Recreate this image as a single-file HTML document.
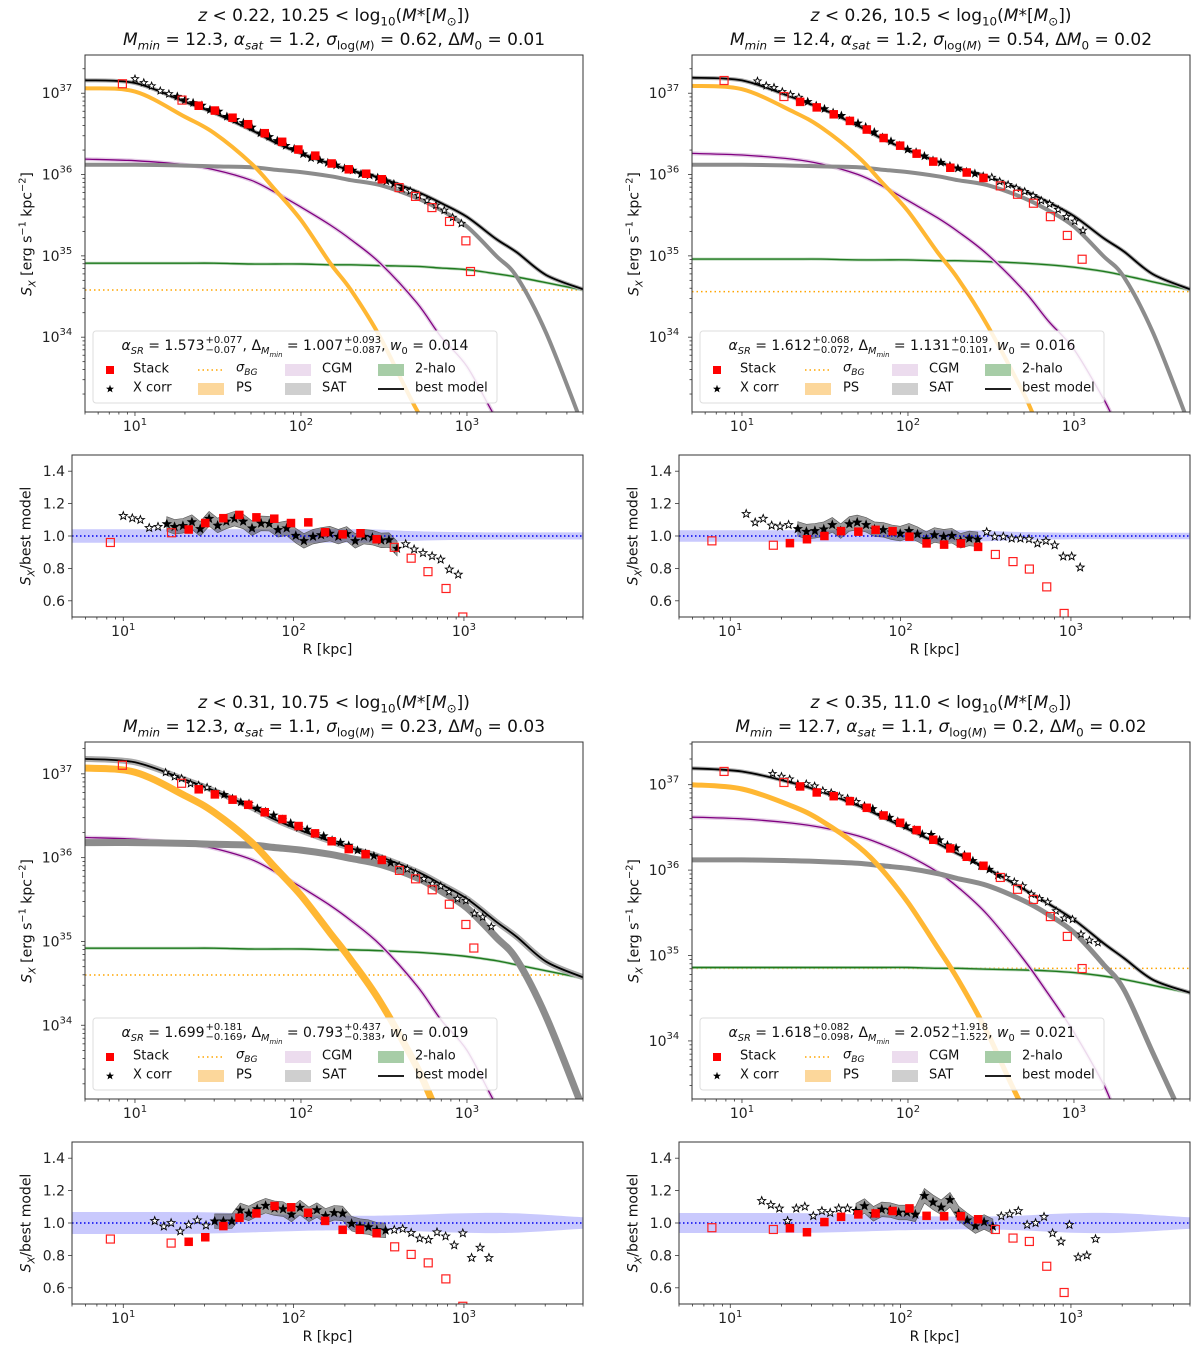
<!DOCTYPE html>
<html><head><meta charset="utf-8">
<style>
html,body{margin:0;padding:0;background:#fff;width:1200px;height:1355px;overflow:hidden;}
#wrap{position:relative;width:1200px;height:1355px;overflow:hidden;font-family:"DejaVu Sans","Liberation Sans",sans-serif;color:#111;}
svg{position:absolute;left:0;top:0;font-family:"DejaVu Sans","Liberation Sans",sans-serif;}
.ov{position:absolute;white-space:nowrap;line-height:1.15;}
.title{font-size:17px;transform:translate(-50%,-50%);}
.ylab{font-size:14px;transform:translate(-50%,-50%) rotate(-90deg);}
.xlab{font-size:14px;transform:translateX(-50%);}
.leg1{font-size:14px;transform:translate(-50%,-50%);}
.legt{font-size:13px;transform:translate(0,-50%);}
.ss{display:inline-block;vertical-align:middle;font-size:10px;line-height:10px;text-align:left;margin-left:1px;}
sub,sup{font-size:70%;}
i{font-style:italic;}
</style></head>
<body><div id="wrap">
<svg id="svg" width="1200" height="1355" xmlns="http://www.w3.org/2000/svg"></svg>
</div>
<script>
// ---- model grid and component arrays (log10 S_X) ----
const gridR=[5,10,20,30,50,70,100,150,200,300,500,700,1000,1500,2000,3000,5000];
const ps1=[37.06,37.02,36.71,36.51,36.14,35.81,35.44,34.91,34.58,34.0,33.1,32.4,31.6,30.3,29.2,27.5,25];
const cgm1=[36.19,36.17,36.12,36.06,35.93,35.78,35.6,35.38,35.2,34.91,34.42,34.0,33.64,33.0,32.4,31.5,30];
const sat1=[36.12,36.12,36.11,36.10,36.09,36.06,36.03,35.98,35.93,35.87,35.71,35.56,35.36,35.0,34.74,34.05,32.9];
const halo1=[34.91,34.91,34.91,34.91,34.90,34.90,34.90,34.89,34.89,34.88,34.87,34.85,34.83,34.78,34.74,34.67,34.58];
const ps2=[37.09,37.05,36.78,36.58,36.22,35.9,35.55,35.05,34.72,34.15,33.3,32.6,31.8,30.6,29.5,27.8,25.5];
const cgm2=[36.26,36.24,36.19,36.13,36.0,35.86,35.68,35.47,35.3,35.02,34.57,34.2,33.85,33.25,32.8,31.9,30.5];
const sat2=[36.12,36.12,36.11,36.10,36.09,36.06,36.03,35.98,35.93,35.87,35.71,35.56,35.36,35.0,34.74,34.05,32.9];
const halo2=[34.96,34.96,34.96,34.96,34.95,34.95,34.95,34.94,34.94,34.93,34.91,34.89,34.86,34.81,34.76,34.68,34.58];
const ps3=[37.07,37.02,36.74,36.54,36.19,35.88,35.55,35.1,34.78,34.28,33.5,32.9,32.2,31.0,30.0,28.3,26];
const cgm3=[36.24,36.22,36.17,36.11,35.98,35.83,35.65,35.43,35.25,34.96,34.47,34.06,33.7,33.05,32.5,31.6,30];
const sat3=[36.18,36.18,36.17,36.16,36.15,36.12,36.09,36.04,35.99,35.92,35.76,35.6,35.4,35.05,34.78,34.1,33.0];
const halo3=[34.92,34.92,34.92,34.92,34.91,34.91,34.91,34.9,34.9,34.89,34.87,34.85,34.82,34.77,34.72,34.65,34.56];
const ps4=[37.0,36.95,36.75,36.58,36.28,36.0,35.62,35.1,34.72,34.1,33.2,32.5,31.7,30.5,29.4,27.7,25.3];
const cgm4=[36.62,36.6,36.55,36.5,36.4,36.3,36.17,35.98,35.8,35.48,34.95,34.55,34.1,33.5,33.0,32.1,30.7];
const sat4=[36.12,36.12,36.11,36.1,36.08,36.05,36.02,35.96,35.9,35.82,35.64,35.48,35.27,34.9,34.6,33.85,32.6];
const halo4=[34.86,34.86,34.86,34.86,34.86,34.86,34.86,34.85,34.85,34.84,34.83,34.82,34.8,34.76,34.72,34.65,34.56];
const bgLevels=[34.58,34.56,34.6,34.85];
// ---- blue uncertainty band half-widths (ratio) ----
const bandR=[5,10,30,100,200,300,500,1000,2000,5000];
const bandW1=[0.042,0.042,0.042,0.042,0.042,0.04,0.03,0.024,0.022,0.022];
const bandW2=[0.035,0.035,0.035,0.035,0.035,0.033,0.025,0.02,0.02,0.02];
const bandW3=[0.068,0.068,0.066,0.05,0.045,0.045,0.05,0.06,0.06,0.035];
const bandW4=[0.062,0.062,0.06,0.045,0.04,0.04,0.045,0.06,0.06,0.035];
// ---- Stack data (R kpc, ratio to best model, open flag) ----
const stackR1=[8.4,19.2,24.2,30.3,38.7,48,60.5,77,96.5,122,153,194,247,307,390,490,615,785,985,1050];
const stackV1=[0.96,1.02,1.04,1.08,1.11,1.13,1.115,1.107,1.08,1.084,1.023,1.01,1.017,0.98,0.93,0.863,0.78,0.676,0.50,0.23];
const stackO1=[1,1,0,0,0,0,0,0,0,0,0,0,0,0,1,1,1,1,1,1];
const stackR2=[7.8,17.9,22.4,28.2,35.7,44.7,56.5,71.3,89.7,112.7,142,180,226,285,360,457,570,721,912,1120];
const stackV2=[0.97,0.943,0.956,0.98,1.0,1.03,1.027,1.038,1.03,0.996,0.954,0.947,0.954,0.933,0.886,0.842,0.796,0.686,0.522,0.35];
const stackO2=[1,1,0,0,0,0,0,0,0,0,0,0,0,0,1,1,1,1,1,1];
const stackR3=[8.4,19.1,24.2,30.3,38.7,48.1,60.5,77.3,96.7,121.5,153,194,245,307,392,490,617,783,985,1100];
const stackV3=[0.901,0.876,0.884,0.912,0.981,1.032,1.059,1.105,1.097,1.063,1.013,0.958,0.958,0.937,0.853,0.806,0.754,0.655,0.486,0.3];
const stackO3=[1,1,0,0,0,0,0,0,0,0,0,0,0,0,1,1,1,1,1,1];
const stackR4=[7.8,17.9,22.4,28.2,35.7,44.7,56.5,71.3,89.7,112.7,142,180,226,285,360,457,570,721,912,1120];
const stackV4=[0.971,0.96,0.968,0.943,1.006,1.038,1.053,1.059,1.074,1.09,1.044,1.042,1.042,1.023,0.96,0.907,0.886,0.733,0.571,0.32];
const stackO4=[1,1,0,0,0,0,0,0,0,0,0,0,0,0,1,1,1,1,1,1];
// ---- X corr data ----
const starR1=[10,11.3,12.6,14.2,16,18,20,22.4,25.3,28.3,31.9,35.8,40.3,45,50.6,57,64.4,72,81,91,103,115,130,145,163,183,205,230,259,290,327,363,405,455,510,575,650,730,820,925];
const starV1=[1.124,1.11,1.10,1.05,1.057,1.074,1.057,1.063,1.086,1.044,1.107,1.065,1.09,1.107,1.09,1.048,1.078,1.076,1.038,1.048,1.002,0.97,0.996,1.006,1.015,0.996,1.013,0.97,0.996,0.99,0.973,0.975,0.922,0.95,0.918,0.895,0.876,0.855,0.794,0.762];
const starO1=[1,1,1,1,1,0,0,0,0,0,0,0,0,0,0,0,0,0,0,0,0,0,0,0,0,0,0,0,0,0,0,0,0,1,1,1,1,1,1,1];
const starR2=[12.4,14,15.6,17.5,19.6,22,24.9,28,31.4,35.4,39.7,44.5,50,55.6,62.7,70.3,79,88.8,99.5,112,125.6,141.5,158,179,200,225,253,284,320,357,401,449,505,567,636,713,803,901,1010,1133];
const starV2=[1.137,1.084,1.107,1.065,1.059,1.069,1.044,1.027,1.032,1.042,1.069,1.03,1.074,1.084,1.069,1.042,1.038,1.023,1.015,1.032,1.011,0.981,1.006,0.996,1.002,0.97,0.985,0.979,1.025,0.996,0.996,0.985,0.985,0.981,0.954,0.97,0.943,0.874,0.874,0.806];
const starO2=[1,1,1,1,1,1,0,0,0,0,0,0,0,0,0,0,0,0,0,0,0,0,0,0,0,0,0,0,1,1,1,1,1,1,1,1,1,1,1,1];
const starR3=[15.3,17.3,19.1,21.6,24.2,27.2,30.6,34.4,38.7,43.4,48.6,54.6,61.1,68.5,77.3,86.7,97.2,109,123,137,154,173,194,219,245,275,308,347,390,437,490,550,619,695,780,877,985,1109,1244,1402];
const starV3=[1.013,0.979,1.0,0.949,0.989,1.017,0.985,1.011,1.011,1.011,1.078,1.059,1.086,1.107,1.091,1.086,1.053,1.095,1.053,1.08,1.044,1.063,1.059,0.996,0.981,0.975,0.958,0.954,0.958,0.964,0.939,0.905,0.897,0.943,0.918,0.863,0.937,0.785,0.848,0.785];
const starO3=[1,1,1,1,1,1,1,0,0,0,0,0,0,0,0,0,0,0,0,0,0,0,0,0,0,0,0,0,1,1,1,1,1,1,1,1,1,1,1,1];
const starR4=[15.3,17.3,19.4,21.7,24.4,27.4,30.7,34.5,38.6,43.3,48.8,54.7,61.4,69.2,77.5,86.9,97.5,109,122,138,155,173,195,219,246,275,309,348,390,437,491,553,620,695,780,874,980,1103,1239,1394];
const starV4=[1.137,1.112,1.09,1.013,1.09,1.101,1.044,1.074,1.063,1.09,1.09,1.076,1.105,1.057,1.084,1.08,1.065,1.065,1.053,1.168,1.128,1.097,1.143,1.059,1.017,0.981,1.006,0.979,1.042,1.055,1.074,0.989,1.0,1.038,0.937,0.886,0.989,0.789,0.8,0.901];
const starO4=[1,1,1,1,1,1,1,1,1,1,1,0,0,0,0,0,0,0,0,0,0,0,0,0,0,0,0,0,1,1,1,1,1,1,1,1,1,1,1,1];
// ---- text ----
const titles1=['<i>z</i> &lt; 0.22, 10.25 &lt; log<sub>10</sub>(<i>M</i>*[<i>M</i><sub>&#x2299;</sub>])','<i>z</i> &lt; 0.26, 10.5 &lt; log<sub>10</sub>(<i>M</i>*[<i>M</i><sub>&#x2299;</sub>])','<i>z</i> &lt; 0.31, 10.75 &lt; log<sub>10</sub>(<i>M</i>*[<i>M</i><sub>&#x2299;</sub>])','<i>z</i> &lt; 0.35, 11.0 &lt; log<sub>10</sub>(<i>M</i>*[<i>M</i><sub>&#x2299;</sub>])'];
const titles2=[['12.3','1.2','0.62','0.01'],['12.4','1.2','0.54','0.02'],['12.3','1.1','0.23','0.03'],['12.7','1.1','0.2','0.02']];
const legVals=[['1.573','+0.077','&minus;0.07','1.007','+0.093','&minus;0.087','0.014'],['1.612','+0.068','&minus;0.072','1.131','+0.109','&minus;0.101','0.016'],['1.699','+0.181','&minus;0.169','0.793','+0.437','&minus;0.383','0.019'],['1.618','+0.082','&minus;0.098','2.052','+1.918','&minus;1.522','0.021']];

const panels=[
 {dx:0,dy:0,yMin:33.08,yMax:37.47,ps:ps1,cgm:cgm1,sat:sat1,halo:halo1,bg:bgLevels[0],sR:stackR1,sV:stackV1,sO:stackO1,xR:starR1,xV:starV1,xO:starO1,bw:bandW1,psw:4},
 {dx:607,dy:0,yMin:33.08,yMax:37.47,ps:ps2,cgm:cgm2,sat:sat2,halo:halo2,bg:bgLevels[1],sR:stackR2,sV:stackV2,sO:stackO2,xR:starR2,xV:starV2,xO:starO2,bw:bandW2,psw:4},
 {dx:0,dy:687,yMin:33.12,yMax:37.38,ps:ps3,cgm:cgm3,sat:sat3,halo:halo3,bg:bgLevels[2],sR:stackR3,sV:stackV3,sO:stackO3,xR:starR3,xV:starV3,xO:starO3,bw:bandW3,psw:7},
 {dx:607,dy:687,yMin:33.32,yMax:37.5,ps:ps4,cgm:cgm4,sat:sat4,halo:halo4,bg:bgLevels[3],sR:stackR4,sV:stackV4,sO:stackO4,xR:starR4,xV:starV4,xO:starO4,bw:bandW4,psw:5}
];

const NS='http://www.w3.org/2000/svg';
const svg=document.getElementById('svg');
const wrap=document.getElementById('wrap');
function el(tag,attrs,parent){const e=document.createElementNS(NS,tag);for(const k in attrs)e.setAttribute(k,attrs[k]);(parent||svg).appendChild(e);return e;}
function ov(cls,x,y,html,name){const d=document.createElement('div');d.className='ov '+cls;d.style.left=x+'px';d.style.top=y+'px';d.innerHTML=html;


wrap.appendChild(d);return d;}
function lerpArr(xs,ys,x){
 const lx=Math.log10(x);
 if(x<=xs[0])return ys[0]; if(x>=xs[xs.length-1])return ys[ys.length-1];
 for(let i=0;i<xs.length-1;i++){if(x<=xs[i+1]){const a=Math.log10(xs[i]),b=Math.log10(xs[i+1]);const t=(lx-a)/(b-a);return ys[i]+(ys[i+1]-ys[i])*t;}}
}
function catmull(pts){let d='M'+pts[0][0].toFixed(1)+','+pts[0][1].toFixed(1);
 for(let i=0;i<pts.length-1;i++){const p0=pts[Math.max(0,i-1)],p1=pts[i],p2=pts[i+1],p3=pts[Math.min(pts.length-1,i+2)];
 const c1=[p1[0]+(p2[0]-p0[0])/6,p1[1]+(p2[1]-p0[1])/6],c2=[p2[0]-(p3[0]-p1[0])/6,p2[1]-(p3[1]-p1[1])/6];
 d+=' C'+c1[0].toFixed(1)+','+c1[1].toFixed(1)+' '+c2[0].toFixed(1)+','+c2[1].toFixed(1)+' '+p2[0].toFixed(1)+','+p2[1].toFixed(1);}
 return d;}
function starPath(cx,cy,r){let d='';for(let k=0;k<10;k++){const rr=k%2?r*0.42:r;const a=-Math.PI/2+k*Math.PI/5;d+=(k?'L':'M')+(cx+rr*Math.cos(a)).toFixed(1)+','+(cy+rr*Math.sin(a)).toFixed(1);}return d+'Z';}
const LX0=Math.log10(5),LX1=Math.log10(5)+3.0;

panels.forEach((p,pi)=>{
 const mx0=85+p.dx,mx1=583+p.dx,my0=55+p.dy,my1=412+p.dy;
 const rx0=72+p.dx,rx1=583+p.dx,ry0=455+p.dy,ry1=617+p.dy;
 const X=r=>mx0+(Math.log10(r)-LX0)/(LX1-LX0)*(mx1-mx0);
 const Y=l=>my1-(l-p.yMin)/(p.yMax-p.yMin)*(my1-my0);
 const RX=r=>rx0+(Math.log10(r)-LX0)/(LX1-LX0)*(rx1-rx0);
 const RY=v=>ry1-(v-0.5)/(1.0)*(ry1-ry0);
 const best=gridR.map((r,i)=>Math.log10(Math.pow(10,p.ps[i]-34)+Math.pow(10,p.cgm[i]-34)+Math.pow(10,p.sat[i]-34)+Math.pow(10,p.halo[i]-34))+34);
 const bestAt=r=>lerpArr(gridR,best,r);

 const g=el('g',{});
 
 
 const defs=el('defs',{},g);
 const cm=el('clipPath',{id:'cm'+pi},defs);el('rect',{x:mx0,y:my0,width:mx1-mx0,height:my1-my0},cm);
 const cr=el('clipPath',{id:'cr'+pi},defs);el('rect',{x:rx0,y:ry0,width:rx1-rx0,height:ry1-ry0},cr);

 const gm=el('g',{'clip-path':'url(#cm'+pi+')'},g);
 
 
 const floorV=p.yMin-0.4;
 const curve=(arr)=>catmull(gridR.map((r,i)=>[X(r),Y(Math.max(arr[i],floorV))]));
 let e;
 e=el('line',{x1:mx0,x2:mx1,y1:Y(p.bg),y2:Y(p.bg),stroke:'#ffa500','stroke-width':1.5,'stroke-dasharray':'1.5,3'},gm);
 
 
 e=el('path',{d:curve(p.halo),fill:'none',stroke:'#9fc79f','stroke-width':3,opacity:0.7},gm);
 
 
 e=el('path',{d:curve(p.halo),fill:'none',stroke:'#1f7a1f','stroke-width':1.4},gm);
 
 
 e=el('path',{d:curve(p.cgm),fill:'none',stroke:'#e4cce6','stroke-width':4},gm);
 
 
 e=el('path',{d:curve(p.cgm),fill:'none',stroke:'#800080','stroke-width':1.3},gm);
 
 
 e=el('path',{d:curve(p.sat),fill:'none',stroke:'#8c8c8c','stroke-width':p.psw},gm);
 
 
 e=el('path',{d:curve(p.ps),fill:'none',stroke:'#ffb733','stroke-width':p.psw},gm);
 
 
 e=el('path',{d:curve(best),fill:'none',stroke:'#aaa','stroke-width':pi==2?6:4},gm);
 
 
 e=el('path',{d:curve(best),fill:'none',stroke:'#000','stroke-width':1.8},gm);
 
 
 p.xR.forEach((r,i)=>{const s=el('path',{d:starPath(X(r),Y(bestAt(r)+Math.log10(p.xV[i])),3.8),fill:p.xO[i]?'#fff':'#000',stroke:'#000','stroke-width':0.9},gm);
  
  });
 p.sR.forEach((r,i)=>{const cx=X(r),cy=Y(bestAt(r)+Math.log10(p.sV[i]));const o=p.sO[i];
  const s=el('rect',{x:cx-4,y:cy-4,width:8,height:8,fill:o?'none':'#ff0000',stroke:o?'#ff2020':'#ff0000','stroke-width':o?1.2:0.5},gm);
  
  });
 e=el('rect',{x:mx0,y:my0,width:mx1-mx0,height:my1-my0,fill:'none',stroke:'#333','stroke-width':1},g);
 
 
 [[X,my1],[RX,ry1]].forEach(([fx,yb])=>{
  for(let dec=0;dec<=3;dec++)for(let m=1;m<10;m++){const v=m*Math.pow(10,dec);if(v<5||v>5000)continue;
   const x=fx(v);el('line',{x1:x,x2:x,y1:yb,y2:yb+(m==1?4:2.5),stroke:'#333','stroke-width':0.8},g);
   if(m==1&&dec>=1){const t=el('text',{x:x,y:yb+19,'font-size':14,'text-anchor':'middle',fill:'#222'},g);
    
    
    t.innerHTML='10<tspan dy="-6" font-size="10">'+dec+'</tspan>';}}
 });
 for(let d=33;d<=37;d++)for(let m=1;m<10;m++){const l=d+Math.log10(m);if(l<p.yMin||l>p.yMax)continue;const y=Y(l);
  el('line',{x1:mx0,x2:mx0-(m==1?4:2.5),y1:y,y2:y,stroke:'#333','stroke-width':0.8},g);
  if(m==1){const t=el('text',{x:mx0-28,y:y+5,'font-size':14,'text-anchor':'middle',fill:'#222'},g);
   
   
   t.innerHTML='10<tspan dy="-7" font-size="10">'+d+'</tspan>';}}

 const lx=p.dx,ly=p.dy;
 e=el('rect',{x:93+lx,y:331+ly,width:404,height:72,rx:3,fill:'#fff','fill-opacity':0.85,stroke:'#ddd'},g);
 
 
 const r1=370+ly,r2=389+ly;
 el('rect',{x:106+lx,y:r1-4,width:8,height:8,fill:'#f00'},g);
 el('path',{d:starPath(110+lx,r2,4.2),fill:'#000'},g);
 el('line',{x1:198+lx,x2:223+lx,y1:r1,y2:r1,stroke:'#ffa500','stroke-width':1.5,'stroke-dasharray':'1.5,3'},g);
 el('rect',{x:198+lx,y:r2-6,width:26,height:12,fill:'#fcd79b'},g);
 el('rect',{x:285+lx,y:r1-6,width:26,height:12,fill:'#ecdcee'},g);
 el('rect',{x:285+lx,y:r2-6,width:26,height:12,fill:'#cfcfcf'},g);
 el('rect',{x:378+lx,y:r1-6,width:26,height:12,fill:'#a7cda7'},g);
 el('line',{x1:378+lx,x2:404+lx,y1:r2,y2:r2,stroke:'#000','stroke-width':1.8},g);
 const lv=legVals[pi];
 ov('leg1',295+lx,348+ly,'<i>&alpha;<sub>SR</sub></i> = '+lv[0]+'<span class="ss">'+lv[1]+'<br>'+lv[2]+'</span>, &Delta;<sub><i>M<sub>min</sub></i></sub> = '+lv[3]+'<span class="ss">'+lv[4]+'<br>'+lv[5]+'</span>, <i>w</i><sub>0</sub> = '+lv[6],'legend-title');
 ov('legt',133+lx,r1,'Stack','legend-entry-stack');
 ov('legt',133+lx,r2,'X corr','legend-entry-xcorr');
 ov('legt',236+lx,r1,'<i>&sigma;<sub>BG</sub></i>','legend-entry-sigma-bg');
 ov('legt',236+lx,r2,'PS','legend-entry-ps');
 ov('legt',322+lx,r1,'CGM','legend-entry-cgm');
 ov('legt',322+lx,r2,'SAT','legend-entry-sat');
 ov('legt',415+lx,r1,'2-halo','legend-entry-2halo');
 ov('legt',415+lx,r2,'best model','legend-entry-best-model');

 const cx=(mx0+mx1)/2;
 ov('title',cx,18+p.dy,titles1[pi],'panel-title-line1');
 const t2=titles2[pi];
 ov('title',cx,42+p.dy,'<i>M<sub>min</sub></i> = '+t2[0]+', <i>&alpha;<sub>sat</sub></i> = '+t2[1]+', <i>&sigma;</i><sub>log(<i>M</i>)</sub> = '+t2[2]+', &Delta;<i>M</i><sub>0</sub> = '+t2[3],'panel-title-line2');
 ov('ylab',28+p.dx,(my0+my1)/2,'<i>S<sub>X</sub></i> [erg s<sup>&minus;1</sup> kpc<sup>&minus;2</sup>]','main-y-axis-title');
 ov('ylab',28+p.dx,(ry0+ry1)/2,'<i>S<sub>X</sub></i>/best model','ratio-y-axis-title');
 ov('xlab',(rx0+rx1)/2,642+p.dy,'R [kpc]','x-axis-title');

 const gr=el('g',{'clip-path':'url(#cr'+pi+')'},g);
 
 
 let up=[],lo=[];
 bandR.forEach((r,i)=>{up.push([RX(r),RY(1+p.bw[i])]);lo.push([RX(r),RY(1-p.bw[i])]);});
 let bd=catmull(up)+' L'+catmull(lo.slice().reverse()).slice(1)+'Z';
 e=el('path',{d:bd,fill:'rgba(90,90,250,0.33)',stroke:'none'},gr);
 
 
 const fi=p.xR.map((r,i)=>i).filter(i=>!p.xO[i]);
 let gd='';fi.forEach((i,k)=>{gd+=(k?'L':'M')+RX(p.xR[i]).toFixed(1)+','+RY(p.xV[i]+0.045).toFixed(1);});
 fi.slice().reverse().forEach(i=>{gd+='L'+RX(p.xR[i]).toFixed(1)+','+RY(p.xV[i]-0.045).toFixed(1);});
 e=el('path',{d:gd+'Z',fill:'rgba(60,60,60,0.5)',stroke:'#555','stroke-width':0.6},gr);
 
 
 e=el('line',{x1:rx0,x2:rx1,y1:RY(1),y2:RY(1),stroke:'#0000ee','stroke-width':1.5,'stroke-dasharray':'1.5,2.5'},gr);
 
 
 p.xR.forEach((r,i)=>{const s=el('path',{d:starPath(RX(r),RY(p.xV[i]),4.2),fill:p.xO[i]?'#fff':'#000',stroke:'#000','stroke-width':0.9},gr);
  
  });
 p.sR.forEach((r,i)=>{const cx=RX(r),cy=RY(p.sV[i]);const o=p.sO[i];
  const s=el('rect',{x:cx-4,y:cy-4,width:8,height:8,fill:o?'none':'#ff0000',stroke:o?'#ff2020':'#ff0000','stroke-width':o?1.2:0.5},gr);
  
  });
 e=el('rect',{x:rx0,y:ry0,width:rx1-rx0,height:ry1-ry0,fill:'none',stroke:'#333','stroke-width':1},g);
 
 
 [0.6,0.8,1.0,1.2,1.4].forEach(v=>{const y=RY(v);el('line',{x1:rx0,x2:rx0-4,y1:y,y2:y,stroke:'#333','stroke-width':0.8},g);
  const t=el('text',{x:rx0-7,y:y+5,'font-size':14,'text-anchor':'end',fill:'#222'},g);
  
  
  t.textContent=v.toFixed(1);});
});
</script>
</body></html>
